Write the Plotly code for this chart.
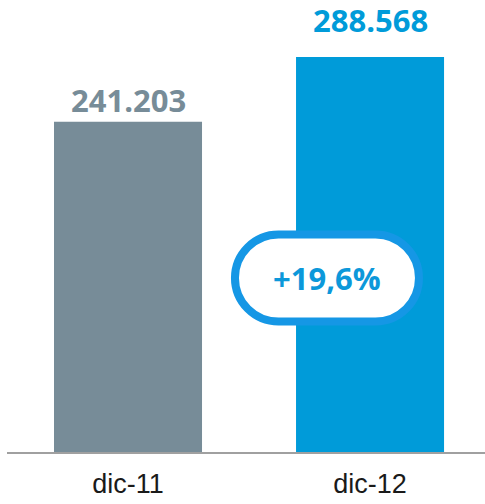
import plotly.graph_objects as go

# Year-end totals
periods = ["dic-11", "dic-12"]
totals = [241203, 288568]
value_labels = ["241.203", "288.568"]
bar_colors = ["#778C98", "#009BD9"]

growth_pct = (totals[1] / totals[0] - 1) * 100
growth_label = "+" + f"{growth_pct:.1f}".replace(".", ",") + "%"

W, H = 485, 504
plot_bottom = 452
ymax = totals[1] * plot_bottom / 395

fig = go.Figure()
fig.add_trace(go.Bar(
    x=[0, 1],
    y=totals,
    width=0.6116,
    marker=dict(color=bar_colors, line=dict(width=0)),
    hoverinfo="skip",
))

# value labels above each bar
label_shift = [-1, 14]
for i, (v, lab, col) in enumerate(zip(totals, value_labels, bar_colors)):
    fig.add_annotation(
        x=i, y=v, text=f"<b>{lab}</b>", showarrow=False,
        yanchor="bottom", yshift=label_shift[i],
        font=dict(family="Open Sans", size=31, color=col),
    )

# rounded growth badge, drawn in pixel units around an anchor point
hw, hh = 92.0, 43.5
r = hh
k = 0.5523 * r
xa = hw - r
path = (
    f"M {-xa},{-hh} L {xa},{-hh} "
    f"C {xa + k},{-hh} {hw},{-k} {hw},0 "
    f"C {hw},{k} {xa + k},{hh} {xa},{hh} "
    f"L {-xa},{hh} "
    f"C {-xa - k},{hh} {-hw},{k} {-hw},0 "
    f"C {-hw},{-k} {-xa - k},{-hh} {-xa},{-hh} Z"
)
badge_x = 0.822
badge_y = (plot_bottom - 278) / plot_bottom
fig.add_shape(
    type="path", path=path,
    xref="x", yref="paper",
    xsizemode="pixel", ysizemode="pixel",
    xanchor=badge_x, yanchor=badge_y,
    fillcolor="white", line=dict(color="#1597E5", width=8),
    layer="above",
)
fig.add_annotation(
    x=badge_x, y=badge_y, xref="x", yref="paper",
    text=f"<b>{growth_label}</b>", showarrow=False,
    font=dict(family="Open Sans", size=31, color="#0C98DA"),
)

fig.update_layout(
    width=W, height=H,
    margin=dict(l=7, r=0, t=0, b=H - plot_bottom),
    paper_bgcolor="white", plot_bgcolor="white",
    showlegend=False,
    xaxis=dict(
        range=[-0.5, 1.475], tickmode="array", tickvals=[0, 1], ticktext=periods,
        showgrid=False, zeroline=False, automargin=False,
        showline=True, linecolor="#A0A0A0", linewidth=2,
        ticks="", tickfont=dict(family="Liberation Sans", size=27, color="#1A1A1A"),
        ticklabelstandoff=7,
    ),
    yaxis=dict(range=[0, ymax], visible=False, showgrid=False, zeroline=False),
)

fig.write_html("out.html")
